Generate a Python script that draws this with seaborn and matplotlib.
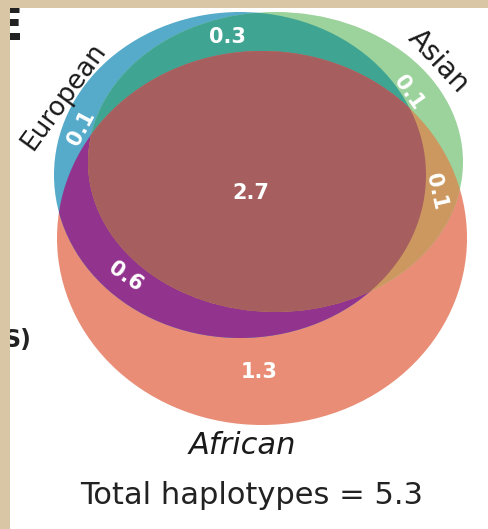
import numpy as np
import matplotlib
matplotlib.use("Agg")
import matplotlib.pyplot as plt
from matplotlib.patches import Ellipse, Polygon
import seaborn as sns

# Haplotype counts per Venn region
set_names = ["European", "Asian", "African"]
region_names = ["European only", "Asian only", "European+Asian", "Asian+African",
                "European+African", "All three", "African only"]
region_values = [0.1, 0.1, 0.3, 0.1, 0.6, 2.7, 1.3]
total_haplotypes = 5.3

sns.set_theme(style="white")
plt.rcParams["font.family"] = ["DejaVu Sans"]

# ellipse geometry in pixel-like coordinates (cx, cy, width, height)
shapes = {
    "European": (240, 175, 372, 326),
    "Asian": (275.5, 162, 375, 300),
    "African": (262, 238, 410, 374),
}
colors = {
    "European only": "#56aaca",
    "Asian only": "#9cd29b",
    "African only": "#e98d76",
    "European+Asian": "#3fa592",
    "European+African": "#92338d",
    "Asian+African": "#cc9860",
    "All three": "#a65f5e",
}

fig = plt.figure(figsize=(4.88, 5.29), dpi=100)
fig.patch.set_facecolor("#d9c6a5")
ax = fig.add_axes([10 / 488, 0, 478 / 488, 521 / 529])
ax.set_facecolor("white")
ax.set_xlim(10, 488)
ax.set_ylim(529, 8)
ax.axis("off")
ax.add_patch(plt.Rectangle((10, 8), 478, 521, color="white", zorder=0))


def ell(name, color, z):
    cx, cy, w, h = shapes[name]
    return Ellipse((cx, cy), w, h, facecolor=color, edgecolor="none",
                   transform=ax.transData, zorder=z)


def ell_points(name, n=1440):
    cx, cy, w, h = shapes[name]
    t = np.linspace(0, 2 * np.pi, n, endpoint=False)
    return np.c_[cx + w / 2 * np.cos(t), cy + h / 2 * np.sin(t)]


def inside(name, pts):
    cx, cy, w, h = shapes[name]
    return ((pts[:, 0] - cx) / (w / 2)) ** 2 + ((pts[:, 1] - cy) / (h / 2)) ** 2 <= 1


# single sets
ax.add_patch(ell("African", colors["African only"], 1))
ax.add_patch(ell("European", colors["European only"], 2))
ax.add_patch(ell("Asian", colors["Asian only"], 3))

# pairwise overlaps via clipping
p = ax.add_patch(ell("Asian", colors["European+Asian"], 4))
p.set_clip_path(ell("European", "none", 0))
p = ax.add_patch(ell("European", colors["European+African"], 5))
p.set_clip_path(ell("African", "none", 0))
p = ax.add_patch(ell("Asian", colors["Asian+African"], 6))
p.set_clip_path(ell("African", "none", 0))

# triple overlap: intersection polygon of the three ellipses
pts = []
for nm in set_names:
    e = ell_points(nm)
    others = [o for o in set_names if o != nm]
    mask = inside(others[0], e) & inside(others[1], e)
    pts.append(e[mask])
pts = np.vstack(pts)
c = pts.mean(axis=0)
pts = pts[np.argsort(np.arctan2(pts[:, 1] - c[1], pts[:, 0] - c[0]))]
ax.add_patch(Polygon(pts, closed=True, facecolor=colors["All three"], edgecolor="none", zorder=7))

# region value labels
label_pos = {
    "European only": (81, 128, 62),
    "Asian only": (408, 93, -55),
    "European+Asian": (227, 37, 0),
    "Asian+African": (436, 192, -77),
    "European+African": (126, 277, -35),
    "All three": (251, 193, 0),
    "African only": (259, 372, 0),
}
for nm, v in zip(region_names, region_values):
    x, y, r = label_pos[nm]
    ax.text(x, y, f"{v}", color="white", fontsize=15, fontweight="bold",
            ha="center", va="center", rotation=r, rotation_mode="anchor", zorder=10)

# set names
ax.text(64, 96, set_names[0], fontsize=19, rotation=54, ha="center", va="center",
        rotation_mode="anchor", color="#1a1a1a", zorder=10)
ax.text(439, 61, set_names[1], fontsize=20, rotation=-47, ha="center", va="center",
        rotation_mode="anchor", color="#1a1a1a", zorder=10)
ax.text(242, 446, set_names[2], fontsize=22, style="italic", ha="center", va="center",
        color="#1a1a1a", zorder=10)

ax.text(252, 496, f"Total haplotypes = {total_haplotypes}", fontsize=22,
        ha="center", va="center", color="#222222", zorder=10)

# cut-off text from neighbouring panel
ax.text(-8, 28, "E", fontsize=33, fontweight="bold", ha="left", va="center",
        color="#222222", clip_on=True, zorder=10)
ax.text(3, 340, "S)", fontsize=17, fontweight="bold", ha="left", va="center",
        color="#222222", clip_on=True, zorder=10)

fig.savefig("out.png", dpi=100, facecolor=fig.get_facecolor())
